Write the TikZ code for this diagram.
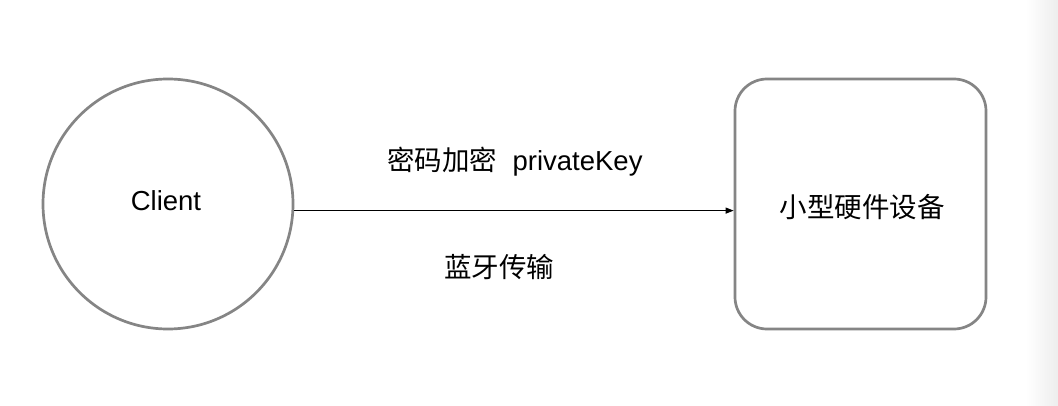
\documentclass[tikz,border=0pt]{standalone}
\usepackage{fontspec}
\setmainfont{Liberation Sans}
\newfontfamily\cjk{Noto Sans CJK SC}
\usetikzlibrary{arrows.meta,calc}
\definecolor{edgegray}{HTML}{858585}
\begin{document}
\begin{tikzpicture}[x=1pt,y=-1pt,
  shape border/.style={draw=edgegray,line width=2.7pt,fill=white},
  lbl/.style={inner sep=0pt,font=\fontsize{27.5}{32}\selectfont},
  conn/.style={line width=1pt,-{Triangle[length=8pt,width=6pt]}}]
\useasboundingbox (0,0) rectangle (1058,406);
\fill[white] (0,0) rectangle (1058,406);
\shade[left color=white,right color=black!7,draw=none] (1026,0) rectangle (1058,406);
\node[shape border,circle,minimum size=250pt,inner sep=0pt] (client) at (168,204) {};
\node[lbl] (clienttxt) at (166,201) {Client};
\node[shape border,rectangle,rounded corners=32pt,minimum width=251pt,minimum height=250pt,inner sep=0pt] (dev) at (860.5,204) {};
\node[lbl] (devtxt) at (862,207) {\cjk 小型硬件设备};
\draw[conn] (client.-3.7) -- (client.-3.7 -| dev.west);
\node[lbl] (top) at (515,162) {{\cjk 密码加密}\hspace{0.55em}privateKey};
\node[lbl] (bot) at (499,267) {\cjk 蓝牙传输};
\end{tikzpicture}
\end{document}
